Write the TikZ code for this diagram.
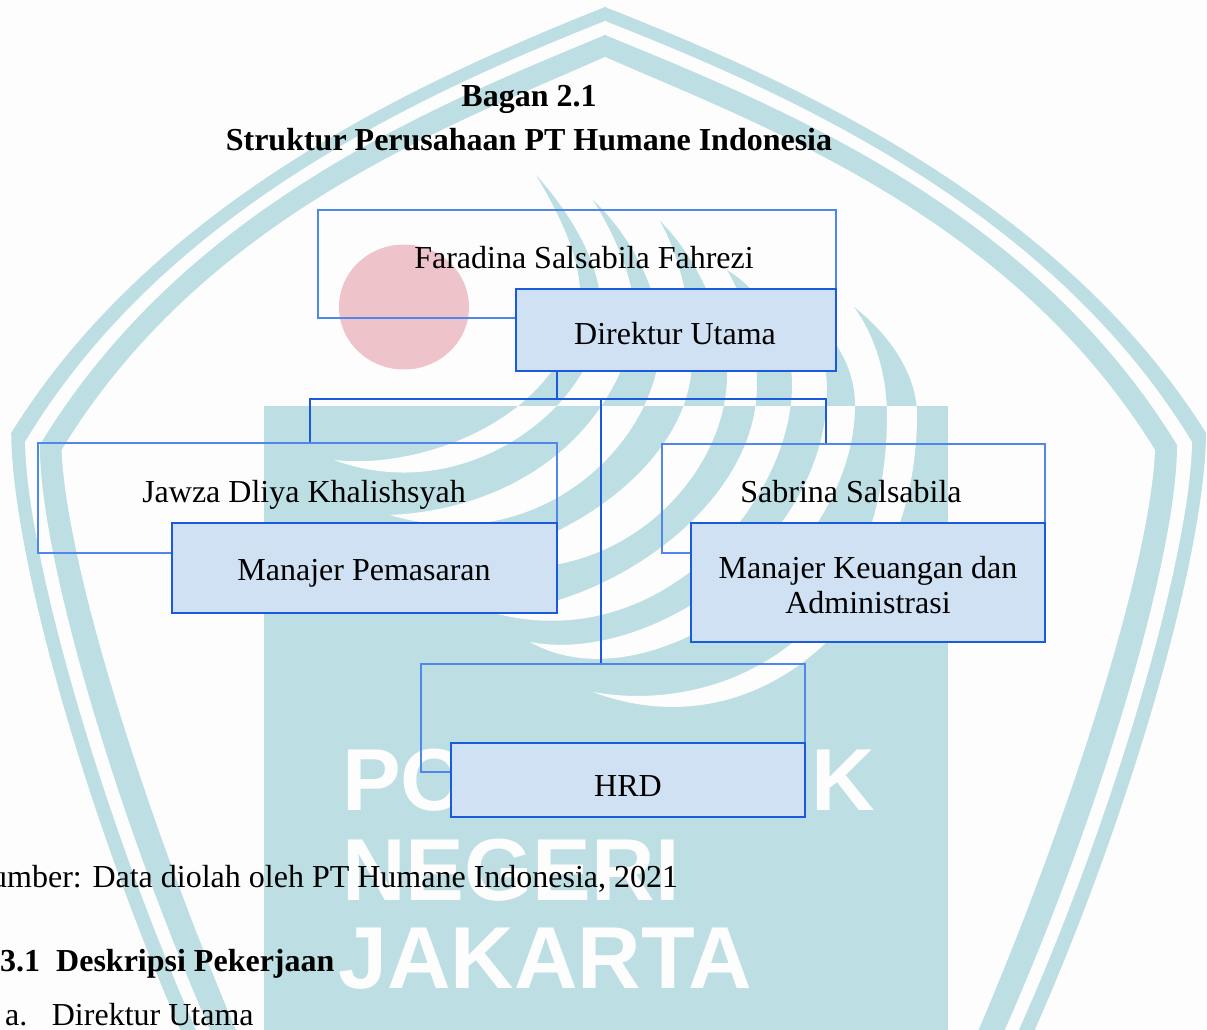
\documentclass[tikz,border=0pt]{standalone}
\usepackage{fontspec}
\setmainfont{Liberation Serif}
\newfontfamily\wmfont{Liberation Sans}
\definecolor{pagebg}{HTML}{FDFDFD}
\definecolor{wmteal}{HTML}{BDDFE3}
\definecolor{wmred}{HTML}{EEC3CA}
\definecolor{namecol}{HTML}{4F87EE}
\definecolor{titlecol}{HTML}{1A5ADC}
\definecolor{titlefill}{HTML}{CFE1F2}
% #1 colour, #2 apex y, #3 #4 controls, #5 shoulder, #6 #7 controls, #8 foot
\newcommand\shieldhalf[8]{%
  \fill[#1] (604,#2) -- (605,#2) .. controls #3 and #4 .. #5 .. controls #6 and #7 .. #8 -- (604,1045) -- cycle;}
\newcommand\shieldfull[8]{%
  \shieldhalf{#1}{#2}{#3}{#4}{#5}{#6}{#7}{#8}
  \begin{scope}[shift={(605,0)},xscale=-0.988,shift={(-605,0)}]
  \shieldhalf{#1}{#2}{#3}{#4}{#5}{#6}{#7}{#8}
  \end{scope}}
\newcommand\crescentset[1]{%
  \fill[#1] (536,175) .. controls (572,215) and (601,265) .. (601,310) .. controls (601,400) and (470,510) .. (334,460)
     .. controls (420,470) and (565,420) .. (580,300) .. controls (582,260) and (560,215) .. (536,175) -- cycle;
  \fill[#1] (593,200) .. controls (630,235) and (660,290) .. (660,340) .. controls (660,440) and (540,560) .. (390,515)
     .. controls (500,510) and (605,450) .. (635,330) .. controls (638,285) and (615,235) .. (593,200) -- cycle;
  \fill[#1] (660,221) .. controls (695,255) and (727,320) .. (727,375) .. controls (727,480) and (610,600) .. (460,560)
     .. controls (560,550) and (680,470) .. (691,375) .. controls (695,320) and (682,260) .. (660,221) -- cycle;
  \fill[#1] (727,270) .. controls (760,290) and (792,335) .. (792,385) .. controls (792,500) and (660,660) .. (490,612)
     .. controls (600,610) and (757,510) .. (757,385) .. controls (757,340) and (745,300) .. (727,270) -- cycle;
  \fill[#1] (785,300) .. controls (825,320) and (855,360) .. (855,405) .. controls (855,560) and (650,710) .. (530,642)
     .. controls (650,665) and (827,545) .. (827,390) .. controls (827,350) and (810,320) .. (785,300) -- cycle;
  \fill[#1] (854,307) .. controls (890,335) and (917,375) .. (917,415) .. controls (917,610) and (760,755) .. (593,692)
     .. controls (720,715) and (887,640) .. (887,415) .. controls (887,375) and (875,335) .. (854,307) -- cycle;
}
\tikzset{
  namebox/.style={draw=namecol,line width=1.5pt,inner sep=0pt,font=\fontsize{32}{35}\selectfont},
  titlebox/.style={draw=titlecol,fill=titlefill,line width=1.8pt,inner sep=0pt,align=center,font=\fontsize{32}{35}\selectfont},
  conn/.style={draw=titlecol,line width=1.8pt},
  plaintext/.style={inner sep=0pt,anchor=base west,font=\fontsize{32}{35}\selectfont},
  headtext/.style={inner sep=0pt,anchor=base,font=\fontsize{32}{35}\selectfont\bfseries},
  wmtext/.style={inner sep=0pt,anchor=base west,text=pagebg,font=\fontsize{88}{88}\selectfont\wmfont\bfseries}
}
\begin{document}
\begin{tikzpicture}[x=1pt,y=-1pt]
\useasboundingbox (0,0) rectangle (1207,1030);
\clip (0,0) rectangle (1207,1030);
\fill[pagebg] (0,0) rectangle (1207,1030);
% watermark shield
\shieldfull{wmteal}{7}{(790,80)}{(1060,200)}{(1206,433)}{(1205,560)}{(1125,830)}{(1028,1045)}
\shieldfull{pagebg}{21}{(785,92)}{(1050,208)}{(1192,442)}{(1190,560)}{(1110,830)}{(1012,1045)}
\shieldfull{wmteal}{35}{(775,105)}{(1030,205)}{(1177,445)}{(1177,560)}{(1095,830)}{(998,1045)}
\shieldfull{pagebg}{57}{(760,125)}{(1010,215)}{(1155,450)}{(1150,570)}{(1065,830)}{(972,1045)}
% watermark swirl and panel
\crescentset{wmteal}
\fill[wmteal] (264,406) rectangle (948,1030);
\begin{scope}
\clip (264,406) rectangle (948,1030);
\crescentset{pagebg}
\end{scope}
\fill[wmred] (404,307) ellipse [x radius=65,y radius=62.5];
\node[wmtext] (wm1) at (342,810) {POLITEKNIK};
\node[wmtext] (wm2) at (342,900) {NEGERI};
\node[wmtext] (wm3) at (338,988) {JAKARTA};
% headings
\node[headtext] (head1) at (529,107) {Bagan 2.1};
\node[headtext] (head2) at (529,150) {Struktur Perusahaan PT Humane Indonesia};
% name boxes
\node[namebox,minimum width=518pt,minimum height=108pt,text height=26pt,text depth=18pt] (faradina) at (577,264) {\hspace*{14pt}Faradina Salsabila Fahrezi};
\node[namebox,minimum width=519pt,minimum height=110pt,text height=26pt,text depth=18pt] (jawza) at (297.5,498) {\hspace*{13pt}Jawza Dliya Khalishsyah};
\node[namebox,minimum width=383pt,minimum height=109pt,text height=26pt,text depth=18pt] (sabrina) at (853.5,498.5) {Sabrina Salsabila\hspace*{5pt}};
\node[namebox,minimum width=384pt,minimum height=108pt] (hrdname) at (613,718) {};
% title boxes
\node[titlebox,minimum width=320pt,minimum height=82pt,text height=28pt,text depth=0pt] (direktur) at (676,330) {Direktur Utama\hspace*{2pt}};
\node[titlebox,minimum width=385pt,minimum height=90pt,text height=24pt,text depth=0pt] (pemasaran) at (364.5,568) {Manajer Pemasaran\hspace*{1pt}};
\node[titlebox,minimum width=354pt,minimum height=119pt] (keuangan) at (868,582.5) {\rule{0pt}{27pt}Manajer Keuangan dan\\Administrasi};
\node[titlebox,minimum width=354pt,minimum height=74pt,text height=32pt,text depth=0pt] (hrd) at (628,780) {HRD};
% connectors
\coordinate (busL) at (310,399);
\coordinate (busR) at (826,399);
\coordinate (busD) at (557,399);
\coordinate (busM) at (601,399);
\draw[conn] (busD |- direktur.south) -- (busD);
\draw[conn] (busL |- jawza.north) -- (busL) -- (busR) -- (busR |- sabrina.north);
\draw[conn] (busM) -- (busM |- hrdname.north);
% text below
\node[plaintext] (source) at (-9,887) {umber: Data diolah oleh PT Humane Indonesia, 2021};
\node[plaintext,font=\fontsize{32}{35}\selectfont\bfseries] (section) at (0,971) {3.1\hspace{16pt}Deskripsi Pekerjaan};
\node[plaintext] (item) at (5,1025) {a.\hspace{24.5pt}Direktur Utama};
\end{tikzpicture}
\end{document}
